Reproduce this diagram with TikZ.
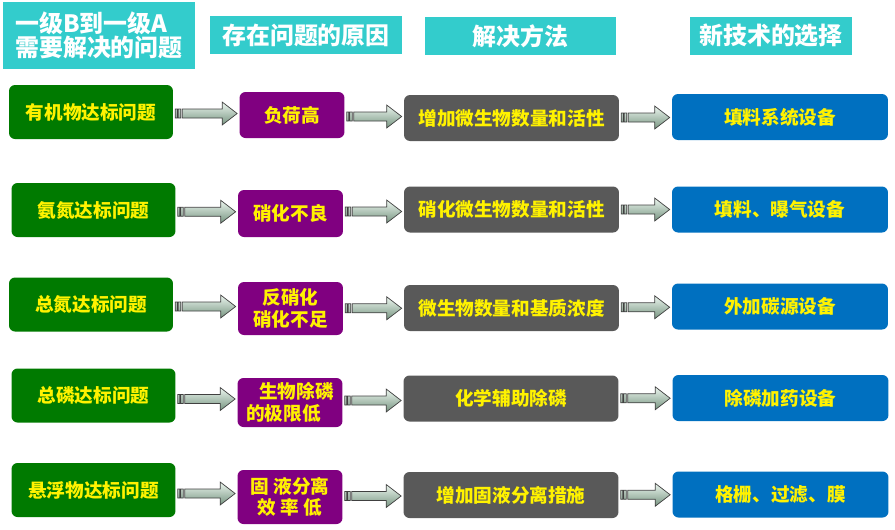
\documentclass[tikz,border=0pt]{standalone}
\usepackage{fontspec}
\setmainfont{Noto Sans CJK SC}
\usetikzlibrary{calc}
\definecolor{headteal}{RGB}{51,204,204}
\definecolor{probgreen}{RGB}{0,122,0}
\definecolor{causepurple}{RGB}{128,0,128}
\definecolor{methodgray}{RGB}{89,89,89}
\definecolor{techblue}{RGB}{0,112,192}
\definecolor{arrowtop}{RGB}{236,246,239}
\definecolor{arrowbot}{RGB}{118,148,128}
% 縞模様の矢印（#1 から #2 へ）
\newcommand{\strarrow}[2]{%
  \draw[stripe] let \p1=(#1.east), \p2=(#2.west), \p3=($(\p1)!0.5!(\p2)$) in
    ({\x1+0.04cm},{\y3-0.09cm}) rectangle ({\x1+0.08cm},{\y3+0.09cm})
    ({\x1+0.1cm},{\y3-0.09cm}) rectangle ({\x1+0.15cm},{\y3+0.09cm})
    ({\x1+0.18cm},{\y3+0.09cm}) -- ({\x2-0.34cm},{\y3+0.09cm})
    -- ({\x2-0.34cm},{\y3+0.23cm}) -- ({\x2-0.04cm},{\y3})
    -- ({\x2-0.34cm},{\y3-0.23cm}) -- ({\x2-0.34cm},{\y3-0.09cm})
    -- ({\x1+0.18cm},{\y3-0.09cm}) -- cycle;}
\begin{document}
\begin{tikzpicture}[x=0.02cm,y=-0.02cm,
    box/.style={rounded corners=0.12cm,inner sep=0pt,text=yellow,align=center,
      font=\fontsize{10.6}{12.2}\selectfont\bfseries},
    prob/.style={box,fill=probgreen,minimum width=3.28cm,minimum height=1.08cm},
    cause/.style={box,fill=causepurple,minimum width=2.1cm},
    method/.style={box,fill=methodgray,minimum width=4.3cm,minimum height=0.92cm},
    tech/.style={box,fill=techblue,minimum width=4.32cm,minimum height=0.92cm},
    head/.style={fill=headteal,text=white,inner sep=0pt,minimum height=0.76cm,
      font=\fontsize{13.6}{13.8}\selectfont\bfseries},
    stripe/.style={draw=black!75,line width=0.4pt,top color=arrowtop,bottom color=arrowbot}]
    \useasboundingbox (0,0) rectangle (895,529);
    % 見出し
    \node[head,minimum width=3.84cm,minimum height=1.34cm,align=left] (h1) at (99,35.5) {一级B到一级A\\需要解决的问题};
    \node[head,minimum width=3.84cm] (h2) at (306,35) {存在问题的原因};
    \node[head,minimum width=3.82cm] (h3) at (520.5,36) {解决方法};
    \node[head,minimum width=3.24cm] (h4) at (771,36) {新技术的选择};
    % 問題
    \node[prob] (p1) at (91,112) {有机物达标问题};
    \node[prob] (p2) at (93.5,210) {氨氮达标问题};
    \node[prob] (p3) at (91,304.5) {总氮达标问题};
    \node[prob] (p4) at (93.5,395.5) {总磷达标问题};
    \node[prob] (p5) at (93.5,490) {悬浮物达标问题};
    % 原因
    \node[cause,minimum height=0.92cm] (c1) at (292,115) {负荷高};
    \node[cause,minimum height=0.94cm] (c2) at (290.5,213.5) {硝化不良};
    \node[cause,minimum height=1.06cm] (c3) at (290.5,308.5) {反硝化\\硝化不足};
    \node[cause,minimum height=0.98cm,align=left] (c4) at (290,402.5) {\hspace*{0.7em}生物除磷\\的极限低};
    \node[cause,minimum height=1.08cm] (c5) at (290,497) {固\ 液分离\\效\ 率\ 低};
    % 解決方法
    \node[method] (m1) at (511.5,118) {增加微生物数量和活性};
    \node[method] (m2) at (511.5,209.5) {硝化微生物数量和活性};
    \node[method] (m3) at (511.5,308) {微生物数量和基质浓度};
    \node[method] (m4) at (511,398.5) {化学辅助除磷};
    \node[method] (m5) at (511,495) {增加固液分离措施};
    % 新技術
    \node[tech] (t1) at (780,117) {填料系统设备};
    \node[tech] (t2) at (780,209.5) {填料、曝气设备};
    \node[tech] (t3) at (780,306.5) {外加碳源设备};
    \node[tech] (t4) at (780.5,398) {除磷加药设备};
    \node[tech] (t5) at (780.5,494.5) {格栅、过滤、膜};
    % 矢印
    \foreach \i in {1,...,5} {
      \strarrow{p\i}{c\i}
      \strarrow{c\i}{m\i}
      \strarrow{m\i}{t\i}
    }
\end{tikzpicture}
\end{document}
